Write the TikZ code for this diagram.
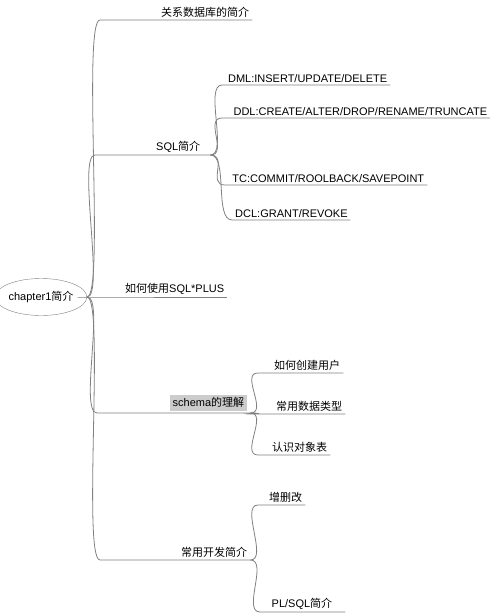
\documentclass[tikz,border=0pt]{standalone}
\usepackage{fontspec}
\setmainfont{Liberation Sans}
\newfontfamily\cjk{Noto Sans CJK SC}
\usetikzlibrary{shapes.geometric}

\begin{document}
\begin{tikzpicture}[
	x=1pt, y=-1pt,
	center/.style={ ellipse, draw=black!50, thin, inner sep=0pt, minimum width=81pt, minimum height=37pt, font=\fontsize{11}{13}\selectfont },
	topic/.style={ anchor=south west, text width=#1, align=right, inner xsep=3pt, inner ysep=2pt, font=\fontsize{11}{13}\selectfont },
	twig/.style={ draw=black!50, line width=0.8pt, to path={.. controls +(18,0) and +(-18,0) .. (\tikztotarget)} }
]
\useasboundingbox (0,0) rectangle (490,614);

\node at (41,297) (root) [center] {chapter1{\cjk 简介}};

\node at (100,20) (rdb) [topic=146pt] {{\cjk 关系数据库的简介}};
\node at (95,155) (sql) [topic=109pt] {SQL{\cjk 简介}\kern7pt};
\node at (82,297) (plus) [topic=139pt] {{\cjk 如何使用}SQL*PLUS};
\node at (97,413) (schema) [topic=147pt] {\fboxsep=3pt\colorbox{black!20}{schema{\cjk 的理解}}};
\node at (100,560) (dev) [topic=144pt] {{\cjk 常用开发简介}};
\foreach \p in {rdb,sql,plus,schema,dev} \draw[twig] (root.east) to (\p.south west) -- (\p.south east);

\node at (222,85) (dml) [topic=162pt] {DML:INSERT/UPDATE/DELETE};
\node at (222,118) (ddl) [topic=262pt] {DDL:CREATE/ALTER/DROP/RENAME/TRUNCATE};
\node at (225,185) (tc) [topic=196pt] {TC:COMMIT/ROOLBACK/SAVEPOINT};
\node at (232,220) (dcl) [topic=112pt] {DCL:GRANT/REVOKE};
\foreach \p in {dml,ddl,tc,dcl} \draw[twig] (sql.south east) to (\p.south west) -- (\p.south east);

\node at (258,373) (user) [topic=79pt] {{\cjk 如何创建用户}};
\node at (252,414) (types) [topic=87pt] {{\cjk 常用数据类型}};
\node at (258,455) (table) [topic=66pt] {{\cjk 认识对象表}};
\foreach \p in {user,types,table} \draw[twig] (schema.south east) to (\p.south west) -- (\p.south east);

\node at (258,505) (crud) [topic=41pt] {{\cjk 增删改}};
\node at (260,612) (plsql) [topic=79pt] {PL/SQL{\cjk 简介}\kern10pt};
\foreach \p in {crud,plsql} \draw[twig] (dev.south east) to (\p.south west) -- (\p.south east);

\end{tikzpicture}
\end{document}
